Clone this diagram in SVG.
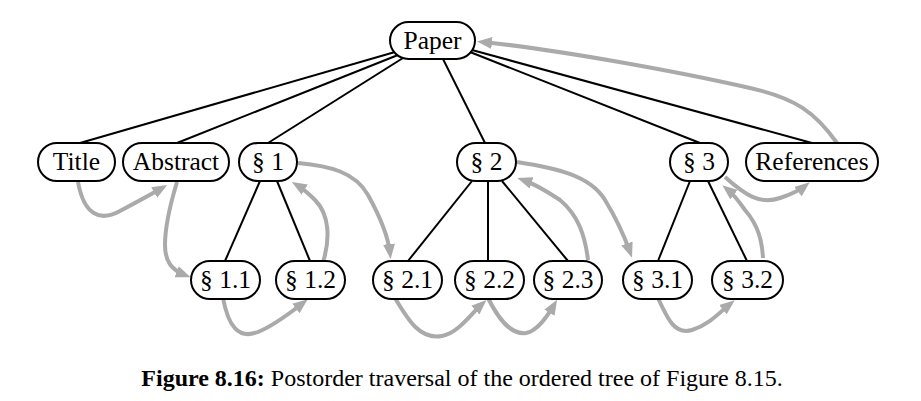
<svg xmlns="http://www.w3.org/2000/svg" width="921" height="401" viewBox="0 0 921 401">
<style>
.node rect{fill:#fff;stroke:#000;stroke-width:2}
.node text{font-family:"Liberation Serif","Times New Roman",serif;font-size:25.5px;text-anchor:middle;fill:#000}
.edge{stroke:#000;stroke-width:2;fill:none}
.trav{stroke:#aaa;stroke-width:4;fill:none;marker-end:url(#ah)}
.cap{font-family:"Liberation Serif","Times New Roman",serif;font-size:24px;fill:#000}
</style>
<defs>
<marker id="ah" markerUnits="userSpaceOnUse" markerWidth="16" markerHeight="12" refX="9" refY="6" orient="auto">
<path d="M0,0 L15,6 L0,12 z" fill="#aaa"/>
</marker>
</defs>
<g id="connectors">
<line class="edge" x1="395" y1="52" x2="80" y2="143"/>
<line class="edge" x1="398" y1="55" x2="177" y2="143"/>
<line class="edge" x1="403" y1="58" x2="268" y2="143"/>
<line class="edge" x1="443" y1="59" x2="485" y2="143"/>
<line class="edge" x1="470" y1="52" x2="700" y2="143"/>
<line class="edge" x1="472" y1="50" x2="812" y2="143"/>
<line class="edge" x1="260" y1="181" x2="225" y2="261"/>
<line class="edge" x1="277" y1="181" x2="310" y2="261"/>
<line class="edge" x1="472" y1="181" x2="408" y2="261"/>
<line class="edge" x1="488" y1="181" x2="488" y2="261"/>
<line class="edge" x1="502" y1="181" x2="568" y2="261"/>
<line class="edge" x1="690" y1="181" x2="658" y2="261"/>
<line class="edge" x1="708" y1="181" x2="747" y2="261"/>
<path class="trav" d="M78,182 C84,215 100,222 120,211 C135,203 150,195 162,188"/>
<path class="trav" d="M177,182 C170,205 165,225 165,245 C165,262 172,270 185,275"/>
<path class="trav" d="M223,298 C228,325 238,340 258,332 C275,325 290,313 303,303"/>
<path class="trav" d="M323,262 C330,240 330,215 315,200 C308,193 302,188 297,185"/>
<path class="trav" d="M298,163 C330,166 355,172 368,195 C378,213 388,235 390,253"/>
<path class="trav" d="M395,298 C408,320 420,340 442,336 C458,333 470,315 482,304"/>
<path class="trav" d="M488,298 C498,318 510,335 526,333 C538,331 548,315 554,305"/>
<path class="trav" d="M588,260 C585,235 578,215 560,200 C545,190 532,183 523,180"/>
<path class="trav" d="M517,162 C555,168 590,175 605,200 C616,218 625,238 630,252"/>
<path class="trav" d="M658,298 C668,320 675,335 692,330 C710,324 720,312 730,304"/>
<path class="trav" d="M763,258 C762,240 758,225 745,210 C738,200 732,193 727,189"/>
<path class="trav" d="M725,177 C745,195 760,205 780,198 C792,194 800,190 805,186"/>
<path class="trav" d="M837,143 C815,112 795,98 750,88 C680,72 560,50 483,42"/>
</g>
<g id="paper" class="node"><rect x="390" y="22" width="85" height="37" rx="18.5"/><text x="432.5" y="49">Paper</text></g>
<g id="title" class="node"><rect x="38" y="143" width="77" height="38" rx="19"/><text x="76.5" y="170">Title</text></g>
<g id="abstract" class="node"><rect x="123" y="143" width="106" height="38" rx="19"/><text x="176" y="170">Abstract</text></g>
<g id="s1" class="node"><rect x="239" y="143" width="58" height="38" rx="19"/><text x="268" y="170">§ 1</text></g>
<g id="s2" class="node"><rect x="457" y="143" width="59" height="38" rx="19"/><text x="486.5" y="170">§ 2</text></g>
<g id="s3" class="node"><rect x="670" y="143" width="58" height="38" rx="19"/><text x="699" y="170">§ 3</text></g>
<g id="references" class="node"><rect x="746" y="143" width="132" height="38" rx="19"/><text x="812" y="170">References</text></g>
<g id="s1_1" class="node"><rect x="191" y="261" width="69" height="38" rx="19"/><text x="225.5" y="288">§ 1.1</text></g>
<g id="s1_2" class="node"><rect x="276" y="261" width="69" height="38" rx="19"/><text x="310.5" y="288">§ 1.2</text></g>
<g id="s2_1" class="node"><rect x="373" y="261" width="69" height="38" rx="19"/><text x="407.5" y="288">§ 2.1</text></g>
<g id="s2_2" class="node"><rect x="455" y="261" width="69" height="38" rx="19"/><text x="489.5" y="288">§ 2.2</text></g>
<g id="s2_3" class="node"><rect x="534" y="261" width="68" height="38" rx="19"/><text x="568" y="288">§ 2.3</text></g>
<g id="s3_1" class="node"><rect x="623" y="261" width="69" height="38" rx="19"/><text x="657.5" y="288">§ 3.1</text></g>
<g id="s3_2" class="node"><rect x="712" y="261" width="71" height="38" rx="19"/><text x="747.5" y="288">§ 3.2</text></g>
<text class="cap" x="462" y="386" text-anchor="middle"><tspan font-weight="bold">Figure 8.16:</tspan> Postorder traversal of the ordered tree of Figure 8.15.</text>
</svg>
